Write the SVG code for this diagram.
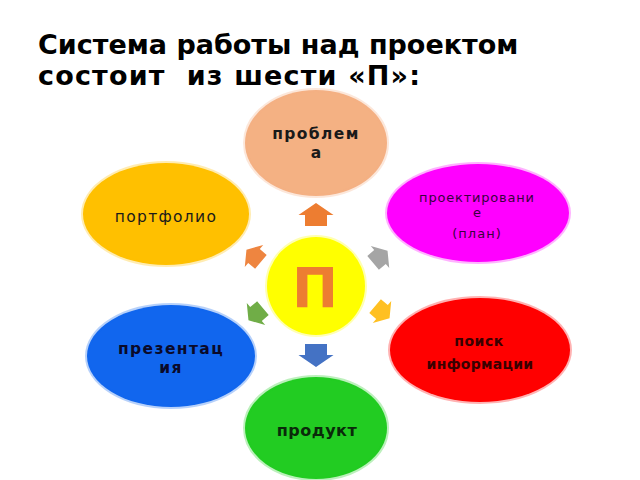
<svg xmlns="http://www.w3.org/2000/svg" width="640" height="480" viewBox="0 0 640 480">
<defs>
<style>
.title{font-family:"DejaVu Sans",Verdana,sans-serif;font-weight:bold;font-size:27px;fill:#000}
.lbl{font-family:"DejaVu Sans",Verdana,sans-serif;text-anchor:middle;fill:#1a1a1a}
.b{font-weight:bold}
.node{stroke-width:4;stroke-opacity:0.3}
</style>
<path id="arr" d="M0,-12 L17.5,0 L11,0 L11,11 L-11,11 L-11,0 L-17.5,0 Z"/>
</defs>
<rect width="640" height="480" fill="#fff"/>
<g id="title">
<text class="title" x="38" y="54">Система работы над проектом</text>
<text class="title" x="38" y="85" xml:space="preserve" textLength="382" lengthAdjust="spacing">состоит  из шести «П»:</text>
</g>
<g id="connectors">
<use href="#arr" fill="#ED7D31" transform="translate(316,215)"/>
<use href="#arr" fill="#4472C4" transform="translate(316,355) rotate(180)"/>
<use href="#arr" fill="#EE8540" transform="translate(254,256) rotate(-50) scale(0.82)"/>
<use href="#arr" fill="#A5A5A5" transform="translate(380,257) rotate(50) scale(0.82)"/>
<use href="#arr" fill="#FFC022" transform="translate(382,312) rotate(130) scale(0.82)"/>
<use href="#arr" fill="#70AD47" transform="translate(256,314) rotate(-130) scale(0.82)"/>
</g>
<g id="center">
<circle cx="316" cy="286" r="49" fill="#FFFF00" class="node" stroke="#FFFF00"/>
<text class="lbl b" x="315" y="307" font-size="55" style="fill:#ED7D31">П</text>
</g>
<g id="problema">
<ellipse cx="316" cy="143" rx="71" ry="53" fill="#F4B183" class="node" stroke="#F4B183"/>
<text class="lbl b" x="316" y="139" font-size="15.5" letter-spacing="1.4">проблем</text>
<text class="lbl b" x="316" y="158" font-size="15.5">а</text>
</g>
<g id="portfolio">
<ellipse cx="166" cy="214" rx="83" ry="51" fill="#FFC000" class="node" stroke="#FFC000"/>
<text class="lbl" x="166" y="222" font-size="15.5" letter-spacing="1.3">портфолио</text>
</g>
<g id="proektirovanie">
<ellipse cx="478" cy="213" rx="91" ry="49" fill="#FF00FF" class="node" stroke="#FF00FF"/>
<text class="lbl" x="477" y="202" font-size="13" letter-spacing="0.8" style="fill:#3a0040">проектировани</text>
<text class="lbl" x="477" y="217" font-size="13" style="fill:#3a0040">е</text>
<text class="lbl" x="477" y="238" font-size="13" letter-spacing="1" style="fill:#3a0040">(план)</text>
</g>
<g id="poisk">
<ellipse cx="480" cy="350" rx="90" ry="52" fill="#FF0000" class="node" stroke="#FF0000"/>
<text class="lbl b" x="479" y="346" font-size="14" letter-spacing="0.5" style="fill:#3a0000">поиск</text>
<text class="lbl b" x="480" y="369" font-size="14" letter-spacing="0.3" style="fill:#3a0000">информации</text>
</g>
<g id="prezentaciya">
<ellipse cx="171" cy="356" rx="84" ry="51" fill="#1166EE" class="node" stroke="#1166EE"/>
<text class="lbl b" x="171" y="354" font-size="15.5" letter-spacing="1.4" style="fill:#0a0a2a">презентац</text>
<text class="lbl b" x="171" y="373" font-size="15.5" letter-spacing="1.4" style="fill:#0a0a2a">ия</text>
</g>
<g id="produkt">
<ellipse cx="316" cy="428" rx="71" ry="51" fill="#22CC22" class="node" stroke="#22CC22"/>
<text class="lbl b" x="317" y="436" font-size="16" letter-spacing="0.5" style="fill:#0a2a0a">продукт</text>
</g>
</svg>
